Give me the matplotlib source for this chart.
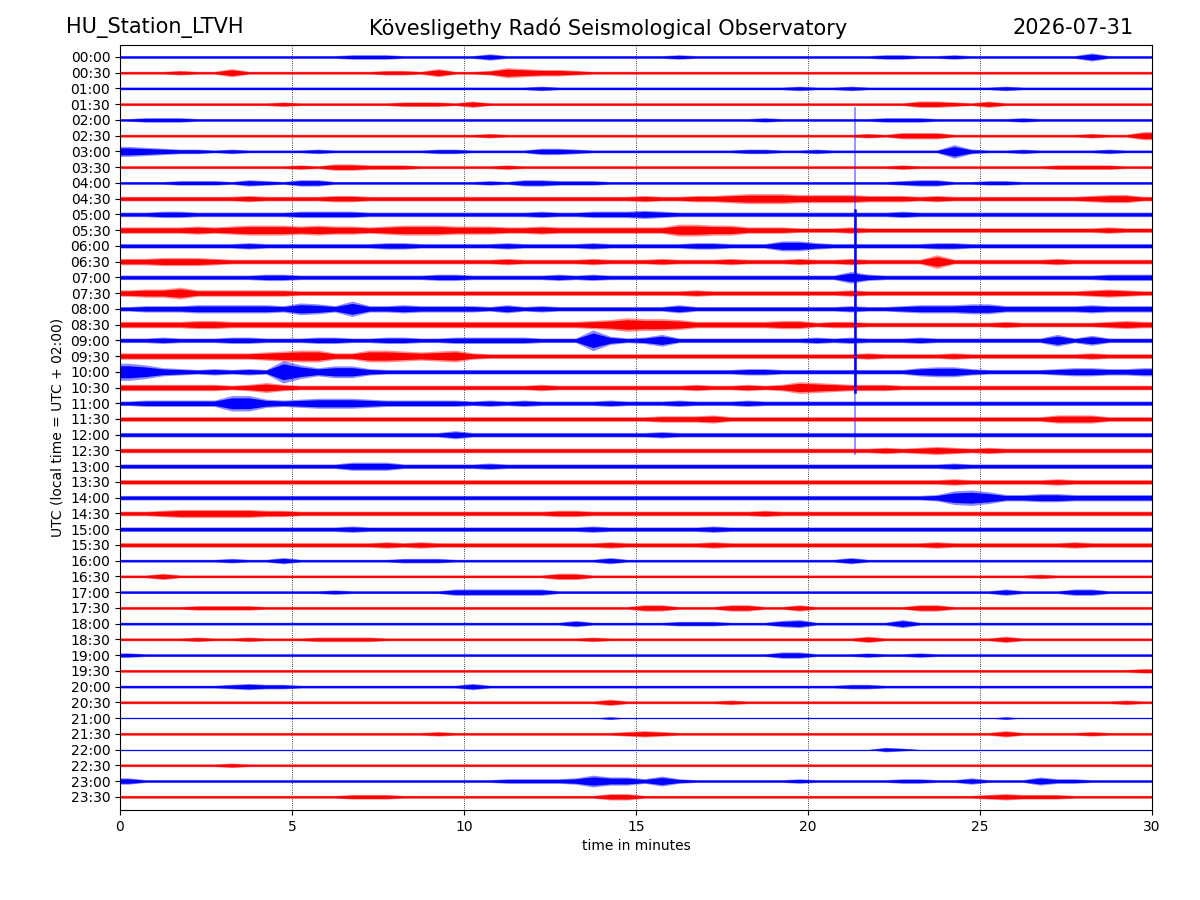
#!/usr/bin/env python3
"""
Helicorder plot: one day of a seismic station, 48 half-hour lines.
Traces are drawn as envelope bands read off the station plot
(one level per half minute, base-36 digit, ~1 px per level).
"""

import matplotlib
matplotlib.use("Agg")
import matplotlib.pyplot as plt
import numpy as np

# =============================================================================
# DATA
# =============================================================================
STATION = "HU_Station_LTVH"
OBSERVATORY = "Kövesligethy Radó Seismological Observatory"
DAY = "2026-07-31"

ROW_LABELS = [f"{h:02d}:{m:02d}" for h in range(24) for m in (0, 30)]
MINUTES = [0, 5, 10, 15, 20, 25, 30]

# envelope levels, 60 half-minute bins per line
ENV_00_07 = [
    "11111111111112221111" "13111111111121111111" "11112211211111114111",  # 00:00
    "11121141111111122141" "12543321111111111111" "11111111111111111111",  # 00:30
    "11111111111111111111" "11112111111111111112" "11211111111211111111",  # 01:00
    "11111111121111112221" "31111111111111111111" "11111133213111111111",  # 01:30
    "12221111111111111111" "11111111111111111211" "11112221111121111111",  # 02:00
    "11111111111111111111" "12111111111111111111" "11121333111111112114",  # 02:30
    "54322121111211111122" "11113321111111112211" "21111111721121111211",  # 03:00
    "11111111112133222111" "11211111111111111111" "11111211111111222211",  # 03:30
    "11122213213311111111" "12133222111111111111" "11111233112211111111",  # 04:00
    "22222223222233222222" "22222222223223345554" "44433323222222223442",  # 04:30
    "22332222223333222222" "22223223334322222222" "22222322222222222222",  # 05:00
    "33334345554544345554" "44334333333366553332" "22322222222222222322",  # 05:30
    "22222223222222233222" "22322223222223322255" "32222223322222222222",  # 06:00
    "33444322222222222222" "22322223222322232223" "22322227222222322222",  # 06:30
    "22222222332222222233" "22222323222222222222" "22632222222222222333",  # 07:00
    "34463333332222222222" "22222222222223222222" "22322222222222223432",  # 07:30
]
ENV_08_15 = [
    "23334444436538334333" "32423222222242222222" "22322344455333334333",  # 08:00
    "33334433333333333333" "33333334576653333344" "23322222222322222343",  # 08:30
    "22322233222332233223" "3333222b423622222222" "32322232222222625222",  # 09:00
    "33333333456633665456" "32222222222222222222" "22232222322222223222",  # 09:30
    "974323232c7466322222" "22222222222222223322" "22222245532222344334",  # 10:00
    "33333323532222222222" "22223222222223223236" "54333222222222222222",  # 10:30
    "23333388434555433333" "23232222322232223222" "22222222222222222222",  # 11:00
    "22222222222222222222" "22222222222333422222" "22222222222222444222",  # 11:30
    "22222222222222222224" "22222222222322222222" "22222222222222222222",  # 12:00
    "22222222222222222222" "22222222222222222222" "22223234323222222222",  # 12:30
    "22222222222224442222" "23222222222222222222" "22222222322222222222",  # 13:00
    "22222222222222222222" "22222222222222222222" "22222222322222322222",  # 13:30
    "22222222222222222222" "22222222222222222222" "22222223786334433333",  # 14:00
    "22344444332222222222" "22222332222222222322" "22222222222222222222",  # 14:30
    "22222222222223222222" "22222223222222322222" "22222222222222222222",  # 15:00
    "22222222222222232322" "22222222322222322222" "22222223222222232222",  # 15:30
]
ENV_16_23 = [
    "11111121131111112221" "11111111311111111111" "11311111111111111111",  # 16:00
    "11311111111111111111" "11111331111111111111" "11111111111112111111",  # 16:30
    "11111111111121111113" "33333111111111111111" "11111111111311133111",  # 17:00
    "11112222111111111111" "11111111113311133113" "11111133111111111111",  # 17:30
    "11111111111111111111" "11111131111122211134" "11111411111111111111",  # 18:00
    "11112112111222211111" "11111112111111111111" "11131111111311111111",  # 18:30
    "21111111111111111111" "11111111111111111133" "11121121111111111111",  # 19:00
    "11111111111111111111" "11111111111111111111" "11111111111111111112",  # 19:30
    "11111123221111111111" "31111111111111111111" "11221111111111111111",  # 20:00
    "11111111111111111111" "11111111311111121111" "11111111111111111121",  # 20:30
    "00000000000000000000" "00000000100000000000" "00000000000100000000",  # 21:00
    "11111111111111111121" "11111111123211111111" "11111111111311112111",  # 21:30
    "00000000000000000000" "00000000000000000000" "00002100000000000000",  # 22:00
    "11111121111111111111" "11111111111111111111" "11111111111111111111",  # 22:30
    "31111111111111111111" "11222236442521111112" "11111221131114221111",  # 23:00
    "11111111111112221111" "11111111331111111111" "11111111112322211111",  # 23:30
]

# large event on the 07:00 line, reaching over neighbouring lines (in lines)
SPIKE_TIME = 21.37
SPIKE_LINE = "07:00"
SPIKE_REACH = (10.76, 11.2)   # faint part: up, down
SPIKE_CORE = (4.3, 7.3)       # solid part: up, down

# =============================================================================
# STYLE
# =============================================================================
COLORS = ["#0000FF", "#FF0000"]
ROW_PX = 15.74
LEVEL_PX = 0.9
FLOOR_PX = 0.5


def main():
    env = ENV_00_07 + ENV_08_15 + ENV_16_23
    n_bins = len(env[0])
    edges = np.linspace(0, 30, n_bins + 1)
    centers = (edges[:-1] + edges[1:]) / 2
    x = np.r_[0, centers, 30]

    fig = plt.figure(figsize=(12, 9), dpi=100)
    ax = fig.add_axes([0.1, 0.1, 0.86, 0.85])

    spike_row = ROW_LABELS.index(SPIKE_LINE)
    for i, levels in enumerate(env):
        color = COLORS[i % 2]
        lev = np.array([int(c, 36) for c in levels], dtype=float)
        amp = (lev * LEVEL_PX + FLOOR_PX * (lev > 0)) / ROW_PX
        a = np.r_[amp[0], amp, amp[-1]]
        ax.fill_between(x, i - a, i + a, color=color, alpha=0.45, lw=0)
        ax.fill_between(x, i - 0.7 * a, i + 0.7 * a, color=color, lw=0)
        ax.plot([0, 30], [i, i], color=color, lw=0.9)
        if i == spike_row:
            ax.plot([SPIKE_TIME, SPIKE_TIME],
                    [i - SPIKE_REACH[0], i + SPIKE_REACH[1]],
                    color=color, alpha=0.45, lw=1.3)
            ax.plot([SPIKE_TIME, SPIKE_TIME],
                    [i - SPIKE_CORE[0], i + SPIKE_CORE[1]],
                    color=color, lw=1.8)

    ax.set_xlim(0, 30)
    ax.set_ylim(len(ROW_LABELS) - 0.16, -0.76)
    ax.set_xticks(MINUTES)
    ax.set_yticks(range(len(ROW_LABELS)))
    ax.set_yticklabels(ROW_LABELS)
    ax.set_axisbelow(True)
    ax.grid(axis="x", color="black", linestyle=":", linewidth=0.6)
    ax.set_xlabel("time in minutes")
    ax.set_ylabel("UTC (local time = UTC + 02:00)")

    fig.text(0.055, 0.969, STATION, ha="left", va="center", fontsize=15)
    fig.text(0.507, 0.969, OBSERVATORY, ha="center", va="center", fontsize=15)
    fig.text(0.945, 0.969, DAY, ha="right", va="center", fontsize=15)

    fig.savefig("out.png", dpi=100)
    plt.close(fig)


if __name__ == "__main__":
    main()
